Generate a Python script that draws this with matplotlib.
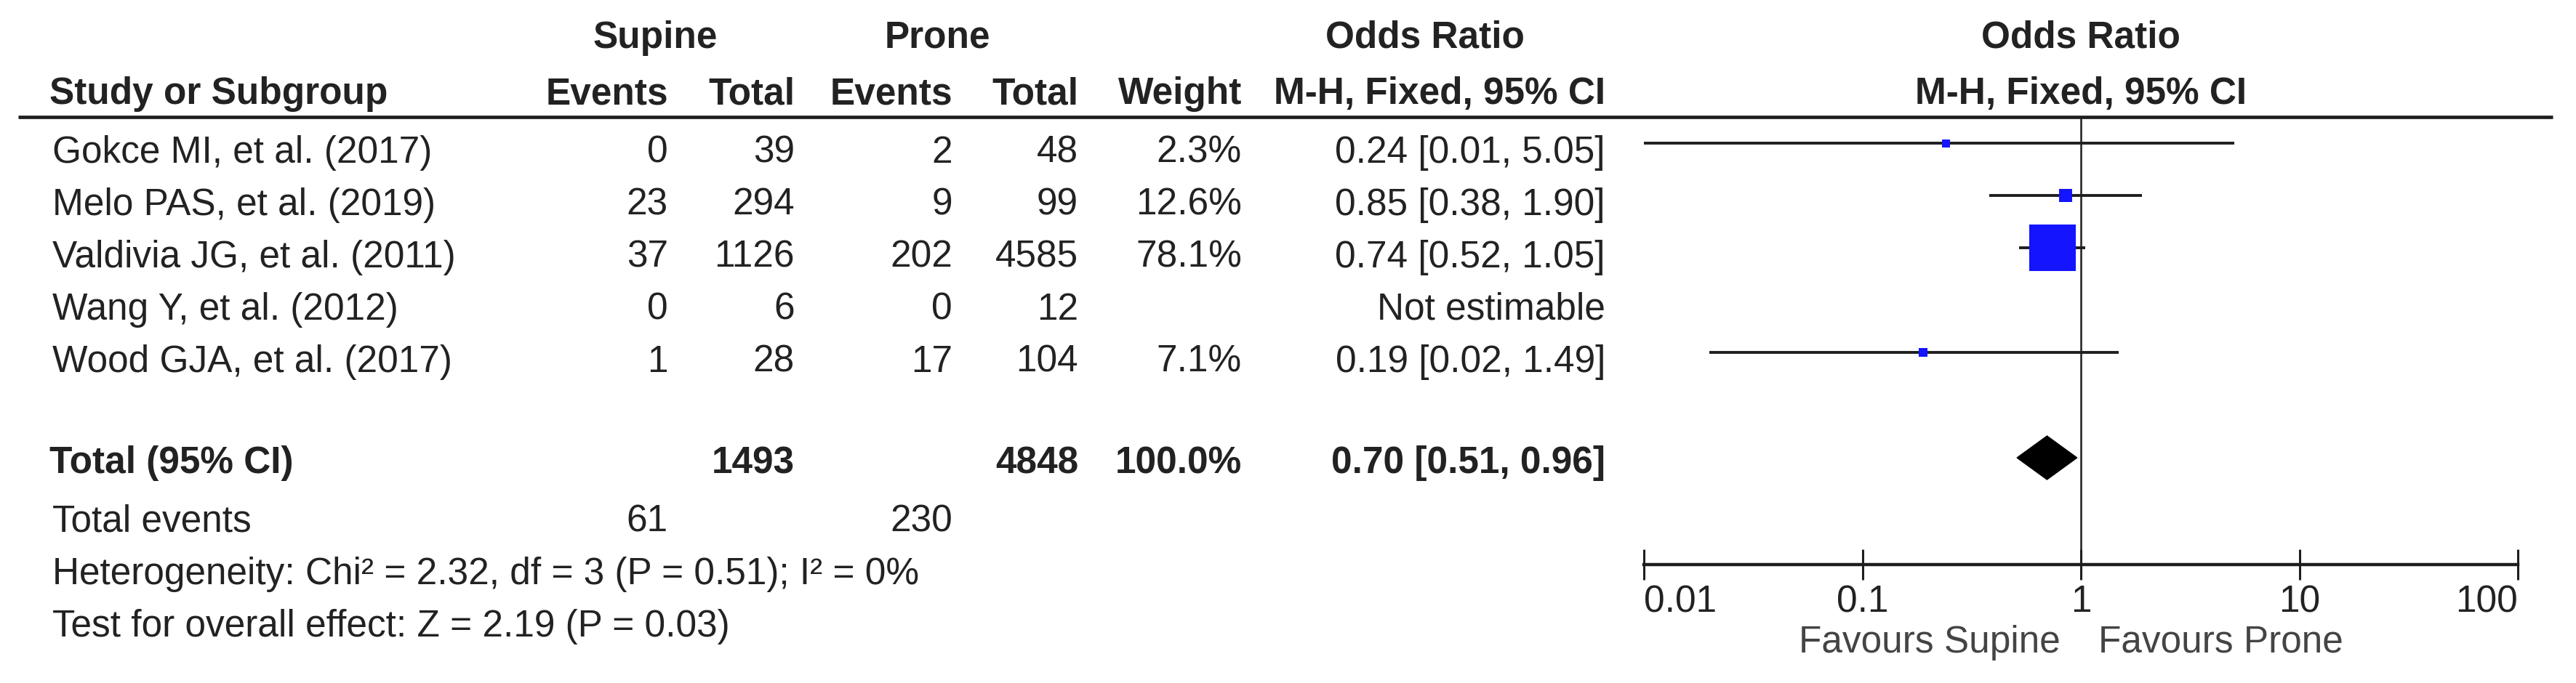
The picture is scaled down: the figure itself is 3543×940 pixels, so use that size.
import matplotlib
matplotlib.use("Agg")
import matplotlib.pyplot as plt
import numpy as np

plt.rcParams["font.family"] = ["Liberation Sans", "DejaVu Sans"]

# ---- data -------------------------------------------------------------
studies = [
    "Gokce MI, et al. (2017)",
    "Melo PAS, et al. (2019)",
    "Valdivia JG, et al. (2011)",
    "Wang Y, et al. (2012)",
    "Wood GJA, et al. (2017)",
]
sup_events = [0, 23, 37, 0, 1]
sup_total = [39, 294, 1126, 6, 28]
pro_events = [2, 9, 202, 0, 17]
pro_total = [48, 99, 4585, 12, 104]
weights = [2.3, 12.6, 78.1, np.nan, 7.1]
or_est = [0.24, 0.85, 0.74, np.nan, 0.19]
ci_lo = [0.01, 0.38, 0.52, np.nan, 0.02]
ci_hi = [5.05, 1.90, 1.05, np.nan, 1.49]

total_sup, total_pro = 1493, 4848
events_sup, events_pro = 61, 230
total_or, total_lo, total_hi = 0.70, 0.51, 0.96
het_text = "Heterogeneity: Chi\u00b2 = 2.32, df = 3 (P = 0.51); I\u00b2 = 0%"
effect_text = "Test for overall effect: Z = 2.19 (P = 0.03)"

axis_ticks = [0.01, 0.1, 1, 10, 100]
axis_labels = ["0.01", "0.1", "1", "10", "100"]

# ---- layout (pixel coordinates of a 3543 x 940 canvas) ---------------
W, H = 3543, 940
FS = 37
TXT = "#222222"
LINE = "#1e1e1e"
BLUE = "#1414ff"

col_right = {"se": 919, "st": 1093, "pe": 1310, "pt": 1483, "w": 1708, "or": 2208}
x_left = 72
base0, step = 224, 72          # baseline of first study row
hdr1, hdr2 = 66, 143
rule_y = 161
total_base = 651
events_base, het_base, eff_base = 732, 804, 876
axis_y = 777
fx0, fx1 = 2261, 3463          # pixel span of 0.01 .. 100

fig = plt.figure(figsize=(W / 100, H / 100), dpi=100)
ax = fig.add_axes([0, 0, 1, 1])
ax.set_xlim(0, W)
ax.set_ylim(H, 0)
ax.axis("off")


def put(x, y, s, ha="right", bold=False):
    ax.text(x, y, s, ha=ha, va="baseline", fontsize=FS, color=TXT,
            fontweight="bold" if bold else "normal")


# headers
put(901, hdr1, "Supine", ha="center", bold=True)
put(1289, hdr1, "Prone", ha="center", bold=True)
put(1960, hdr1, "Odds Ratio", ha="center", bold=True)
put(x_left - 4, hdr2, "Study or Subgroup", ha="left", bold=True)
put(col_right["se"], hdr2, "Events", bold=True)
put(col_right["st"], hdr2, "Total", bold=True)
put(col_right["pe"], hdr2, "Events", bold=True)
put(col_right["pt"], hdr2, "Total", bold=True)
put(col_right["w"], hdr2, "Weight", bold=True)
put(col_right["or"], hdr2, "M-H, Fixed, 95% CI", bold=True)
ax.plot([25, 3511], [rule_y, rule_y], color=LINE, lw=3.4, solid_capstyle="butt")

# study rows
for i, name in enumerate(studies):
    yb = base0 + i * step
    put(x_left, yb, name, ha="left")
    put(col_right["se"], yb, str(sup_events[i]))
    put(col_right["st"], yb, str(sup_total[i]))
    put(col_right["pe"], yb, str(pro_events[i]))
    put(col_right["pt"], yb, str(pro_total[i]))
    if np.isnan(or_est[i]):
        put(col_right["or"], yb, "Not estimable")
    else:
        put(col_right["w"], yb, f"{weights[i]:.1f}%")
        put(col_right["or"], yb,
            f"{or_est[i]:.2f} [{ci_lo[i]:.2f}, {ci_hi[i]:.2f}]")

# totals
put(x_left - 4, total_base, "Total (95% CI)", ha="left", bold=True)
put(col_right["st"], total_base, str(total_sup), bold=True)
put(col_right["pt"], total_base, str(total_pro), bold=True)
put(col_right["w"], total_base, "100.0%", bold=True)
put(col_right["or"], total_base,
    f"{total_or:.2f} [{total_lo:.2f}, {total_hi:.2f}]", bold=True)
put(x_left, events_base, "Total events", ha="left")
put(col_right["se"], events_base, str(events_sup))
put(col_right["pe"], events_base, str(events_pro))
put(x_left, het_base, het_text, ha="left")
put(x_left, eff_base, effect_text, ha="left")

# ---- forest plot ------------------------------------------------------
axf = fig.add_axes([fx0 / W, (H - axis_y) / H, (fx1 - fx0) / W, (axis_y - rule_y) / H])
axf.set_xscale("log")
axf.set_xlim(axis_ticks[0], axis_ticks[-1])
axf.set_ylim(axis_y, rule_y)
axf.patch.set_alpha(0)
for side in ("top", "left", "right"):
    axf.spines[side].set_visible(False)
axf.spines["bottom"].set_linewidth(3.2)
axf.spines["bottom"].set_color(LINE)
axf.set_yticks([])
axf.set_xticks(axis_ticks)
axf.set_xticklabels(axis_labels)
axf.minorticks_off()
axf.tick_params(axis="x", direction="inout", length=30, width=2.2, color=LINE,
                pad=4.5, labelsize=FS, labelcolor=TXT)
ticks = axf.xaxis.get_major_ticks()
ticks[0].label1.set_horizontalalignment("left")
ticks[-1].label1.set_horizontalalignment("right")

axf.axvline(1, color=LINE, lw=1.8)

for i in range(len(studies)):
    if np.isnan(or_est[i]):
        continue
    yc = base0 + i * step - 27
    axf.plot([ci_lo[i], ci_hi[i]], [yc, yc], color=LINE, lw=2.8,
             solid_capstyle="butt", zorder=3)
    side_px = max(11, 3.0 * weights[i] ** 0.7)
    axf.scatter([or_est[i]], [yc], marker="s", s=(side_px * 0.72) ** 2,
                color=BLUE, linewidths=0, zorder=4)

yd = total_base - 21
axf.fill([total_lo, total_or, total_hi, total_or],
         [yd, yd - 30, yd, yd + 30], color="black", zorder=4)

axf.annotate("Favours Supine", xy=(1, 898), xytext=(-20, 0),
             textcoords="offset points", ha="right", va="baseline",
             fontsize=FS, color="#444444", annotation_clip=False)
axf.annotate("Favours Prone", xy=(1, 898), xytext=(17, 0),
             textcoords="offset points", ha="left", va="baseline",
             fontsize=FS, color="#444444", annotation_clip=False)

axf.text(1, hdr1, "Odds Ratio", ha="center", va="baseline", fontsize=FS,
         fontweight="bold", color=TXT)
axf.text(1, hdr2, "M-H, Fixed, 95% CI", ha="center", va="baseline", fontsize=FS,
         fontweight="bold", color=TXT)

fig.savefig("out.png", dpi=100, facecolor="white")
